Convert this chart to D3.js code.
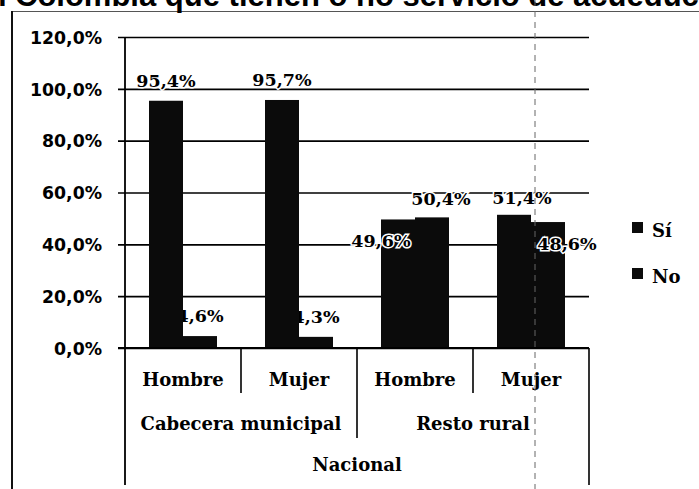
<!DOCTYPE html>
<html><head><meta charset="utf-8">
<script src="https://cdn.jsdelivr.net/npm/d3@7"></script>
<style>html,body{margin:0;padding:0;background:#fff;overflow:hidden}</style>
</head><body>
<svg id="c" width="699" height="489"></svg>
<script>
const groups = ["Cabecera municipal", "Resto rural"];
const categories = ["Hombre", "Mujer", "Hombre", "Mujer"];
const categoryGroup = [0, 0, 1, 1];
const topLabel = "Nacional";
const seriesNames = ["Sí", "No"];
const siValues = [95.4, 95.7, 49.6, 51.4];
const noValues = [4.6, 4.3, 50.4, 48.6];
const yTicks = [0, 20, 40, 60, 80, 100, 120];
const titleText = "en Colombia que tienen o no servicio de acueducto";

const svg = d3.select("#c");
const W = 699, H = 489;
const plot = {l:125, r:589, t:37, b:348};
const fmt = v => d3.format(".1f")(v).replace(".", ",") + "%";

// frame
svg.append("line").attr("x1",12).attr("x2",699).attr("y1",11.5).attr("y2",11.5).attr("stroke","#555").attr("stroke-width",1.2);
svg.append("line").attr("x1",12).attr("x2",12).attr("y1",11).attr("y2",H).attr("stroke","#111").attr("stroke-width",2);

// title (cropped at top, as in the scanned source)
const titleFont = 31;
const title = svg.append("text").attr("y",6).attr("font-family","Liberation Sans, Arial, sans-serif")
  .attr("font-weight","bold").attr("font-size",titleFont).attr("fill","#000").text(titleText);
const pre = svg.append("text").attr("font-family","Liberation Sans").attr("font-weight","bold").attr("font-size",titleFont).attr("xml:space","preserve").text("en ");
const preW = pre.node().getComputedTextLength(); pre.remove();
title.attr("x", 15 - preW);

const y = d3.scaleLinear().domain([0,120]).range([plot.b, plot.t]);
const x0 = d3.scaleBand().domain(d3.range(categories.length)).range([plot.l, plot.r]);
const x1 = d3.scaleBand().domain([0,1]).range([24, x0.bandwidth()-24]);

// gridlines + y axis
const yAxis = d3.axisLeft(y).tickValues(yTicks).tickSize(-(plot.r-plot.l)).tickFormat(fmt);
const ga = svg.append("g").attr("transform",`translate(${plot.l},0)`).call(yAxis);
ga.select(".domain").remove();
ga.selectAll(".tick line").attr("x1",-7).attr("stroke","#000").attr("stroke-width",1.6);
ga.selectAll(".tick text").attr("x",-23).attr("dy","0.36em").attr("font-family","DejaVu Sans, sans-serif")
  .attr("font-weight","bold").attr("font-size",17.3).attr("fill","#000");
svg.append("line").attr("x1",plot.l).attr("x2",plot.l).attr("y1",plot.t).attr("y2",H-4).attr("stroke","#000").attr("stroke-width",1.8);
svg.append("line").attr("x1",plot.r).attr("x2",plot.r).attr("y1",plot.b).attr("y2",H-4).attr("stroke","#000").attr("stroke-width",1.6);

// data labels
const labelFont = "DejaVu Serif, serif";
const labelSize = 17.5;
const nudges = [[[0,0],[0,0],[-17,42],[8,3]],[[0,0],[0,0],[9,2],[19,42]]];
const series = [siValues, noValues];
function drawLabel(s, i, v) {
  const cx = x0(i) + x1(s) + x1.bandwidth()/2 + nudges[s][i][0];
  const cy = y(v) - 14 + nudges[s][i][1];
  svg.append("text").attr("x",cx).attr("y",cy).attr("text-anchor","middle")
    .attr("font-family",labelFont).attr("font-weight","bold").attr("font-size",labelSize)
    .attr("fill","#000").attr("stroke","#fff").attr("stroke-width",3).attr("paint-order","stroke").text(fmt(v));
}
// labels of Cabecera drawn under the bars (the Sí bar covers part of the small labels)
series.forEach((vals, s) => vals.forEach((v, i) => { if (categoryGroup[i] === 0) drawLabel(s, i, v); }));

// bars
const bars = svg.append("g");
series.forEach((vals, s) => {
  bars.selectAll(null).data(vals).enter().append("rect")
    .attr("x",(d,i)=>x0(i)+x1(s)).attr("width",x1.bandwidth())
    .attr("y",d=>y(d)).attr("height",d=>plot.b-y(d)).attr("fill","#0b0b0b");
});
series.forEach((vals, s) => vals.forEach((v, i) => { if (categoryGroup[i] === 1) drawLabel(s, i, v); }));

// baseline
svg.append("line").attr("x1",plot.l-7).attr("x2",plot.r).attr("y1",plot.b).attr("y2",plot.b).attr("stroke","#000").attr("stroke-width",1.8);

// category axis (multi-level)
const catFont = "DejaVu Serif, serif";
const catSize = 18;
categories.forEach((c,i)=>{
  svg.append("text").attr("x",x0(i)+x0.bandwidth()/2).attr("y",386).attr("text-anchor","middle")
    .attr("font-family",catFont).attr("font-weight","bold").attr("font-size",catSize).text(c);
  if (i>0) {
    const lvl = categoryGroup[i] !== categoryGroup[i-1] ? 438 : 393;
    svg.append("line").attr("x1",x0(i)).attr("x2",x0(i)).attr("y1",plot.b).attr("y2",lvl).attr("stroke","#000").attr("stroke-width",1.6);
  }
});
groups.forEach((g,gi)=>{
  const idx = categoryGroup.map((v,i)=>v===gi?i:-1).filter(i=>i>=0);
  const a = x0(idx[0]), b = x0(idx[idx.length-1]) + x0.bandwidth();
  svg.append("text").attr("x",(a+b)/2).attr("y",430).attr("text-anchor","middle")
    .attr("font-family",catFont).attr("font-weight","bold").attr("font-size",catSize).text(g);
});
svg.append("text").attr("x",(plot.l+plot.r)/2).attr("y",471).attr("text-anchor","middle")
  .attr("font-family",catFont).attr("font-weight","bold").attr("font-size",catSize).text(topLabel);

// legend
seriesNames.forEach((n,k)=>{
  const ly = 222 + k*46;
  svg.append("rect").attr("x",632).attr("y",ly).attr("width",11).attr("height",11).attr("fill","#0b0b0b");
  svg.append("text").attr("x",652).attr("y",ly+15).attr("font-family",catFont).attr("font-weight","bold")
    .attr("font-size",catSize).text(n);
});

// scan fold line
svg.append("line").attr("x1",535).attr("x2",535).attr("y1",0).attr("y2",H).attr("stroke","#666")
  .attr("stroke-width",1).attr("stroke-dasharray","6,5");
</script>
</body></html>
